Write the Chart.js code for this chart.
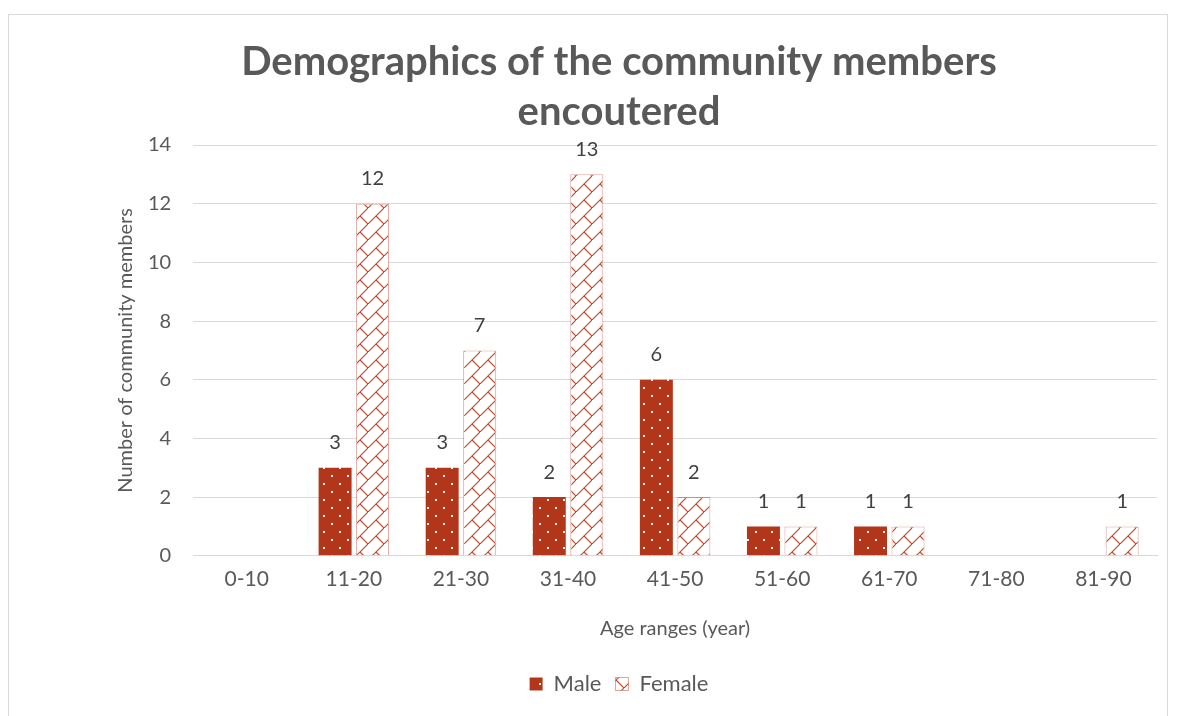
<!DOCTYPE html>
<html>
<head>
<meta charset="utf-8">
<script src="https://cdn.jsdelivr.net/npm/chart.js@4/dist/chart.umd.min.js"></script>
<style>
    body { margin: 0; background: #fff; }
    #wrap { position: relative; width: 1178px; height: 716px; }
    #frame { position: absolute; left: 8px; top: 14px; width: 1160px; height: 710px; border: 1px solid #d9d9d9; box-sizing: border-box; }
    #chart { position: absolute; left: 0; top: 0; }
</style>
</head>
<body>
<div id="wrap">
    <div id="frame"></div>
    <canvas id="chart" width="1178" height="716"></canvas>
</div>
<script>
// chart data
const ageRanges = ['0-10', '11-20', '21-30', '31-40', '41-50', '51-60', '61-70', '71-80', '81-90'];
const maleCounts = [0, 3, 3, 2, 6, 1, 1, 0, 0];
const femaleCounts = [0, 12, 7, 13, 2, 1, 1, 0, 1];

const RED = '#b3361a';

// dotted fill for male bars
function dotPattern() {
    const c = document.createElement('canvas');
    c.width = 16; c.height = 16;
    const g = c.getContext('2d');
    g.fillStyle = RED;
    g.fillRect(0, 0, 16, 16);
    g.fillStyle = '#ffffff';
    g.fillRect(3, 3, 2, 2);
    g.fillRect(11, 11, 2, 2);
    return g.createPattern(c, 'repeat');
}

// diagonal brick fill for female bars
function brickPattern() {
    const c = document.createElement('canvas');
    c.width = 16; c.height = 16;
    const g = c.getContext('2d');
    g.fillStyle = '#ffffff';
    g.fillRect(0, 0, 16, 16);
    g.strokeStyle = '#c24a2a';
    g.lineWidth = 1.2;
    g.beginPath();
    g.moveTo(-1, 17); g.lineTo(17, -1);
    g.moveTo(8, 8); g.lineTo(16, 16);
    g.stroke();
    return g.createPattern(c, 'repeat');
}

// value labels above bars (zeros skipped)
const valueLabels = {
    id: 'valueLabels',
    afterDatasetsDraw(chart) {
        const ctx = chart.ctx;
        ctx.save();
        ctx.font = '20px Lato';
        ctx.fillStyle = '#404040';
        ctx.textAlign = 'center';
        ctx.textBaseline = 'middle';
        chart.data.datasets.forEach((ds, i) => {
            chart.getDatasetMeta(i).data.forEach((bar, j) => {
                if (ds.data[j] > 0) ctx.fillText(ds.data[j], bar.x, bar.y - 25);
            });
        });
        ctx.restore();
    }
};

new Chart(document.getElementById('chart').getContext('2d'), {
    type: 'bar',
    data: {
        labels: ageRanges,
        datasets: [
            { label: 'Male', data: maleCounts, backgroundColor: dotPattern(), borderWidth: 0 },
            { label: 'Female', data: femaleCounts, backgroundColor: brickPattern(), borderColor: 'rgba(179,54,26,0.45)', borderWidth: 1 }
        ]
    },
    plugins: [valueLabels],
    options: {
        responsive: false,
        animation: false,
        layout: { padding: { left: 81, right: 21, top: 20, bottom: 11 } },
        datasets: { bar: { categoryPercentage: 0.7, barPercentage: 0.88 } },
        scales: {
            y: {
                min: 0, max: 14,
                ticks: { stepSize: 2, padding: 22, color: '#595959', font: { family: 'Lato', size: 20 } },
                grid: { color: '#d9d9d9', drawTicks: false },
                border: { display: false },
                title: {
                    display: true, text: 'Number of community members', color: '#595959',
                    font: { family: 'Lato', size: 20 }, padding: { top: 33, bottom: -12 }
                }
            },
            x: {
                ticks: { padding: 11, color: '#595959', font: { family: 'Lato', size: 21 } },
                grid: { display: false, drawTicks: false },
                border: { color: '#d9d9d9' },
                title: {
                    display: true, text: 'Age ranges (year)', color: '#595959',
                    font: { family: 'Lato', size: 20 }, padding: { top: 14, bottom: 18 }
                }
            }
        },
        plugins: {
            title: {
                display: true,
                text: ['Demographics of the community members', 'encoutered'],
                color: '#595959',
                font: { family: 'Lato', size: 40, weight: 'bold', lineHeight: 1.25 },
                padding: { top: 17, bottom: 8 }
            },
            legend: {
                position: 'bottom',
                labels: {
                    color: '#595959', font: { family: 'Lato', size: 22 },
                    boxWidth: 13, boxHeight: 13, padding: 14
                }
            },
            tooltip: { enabled: false }
        }
    }
});
</script>
</body>
</html>
